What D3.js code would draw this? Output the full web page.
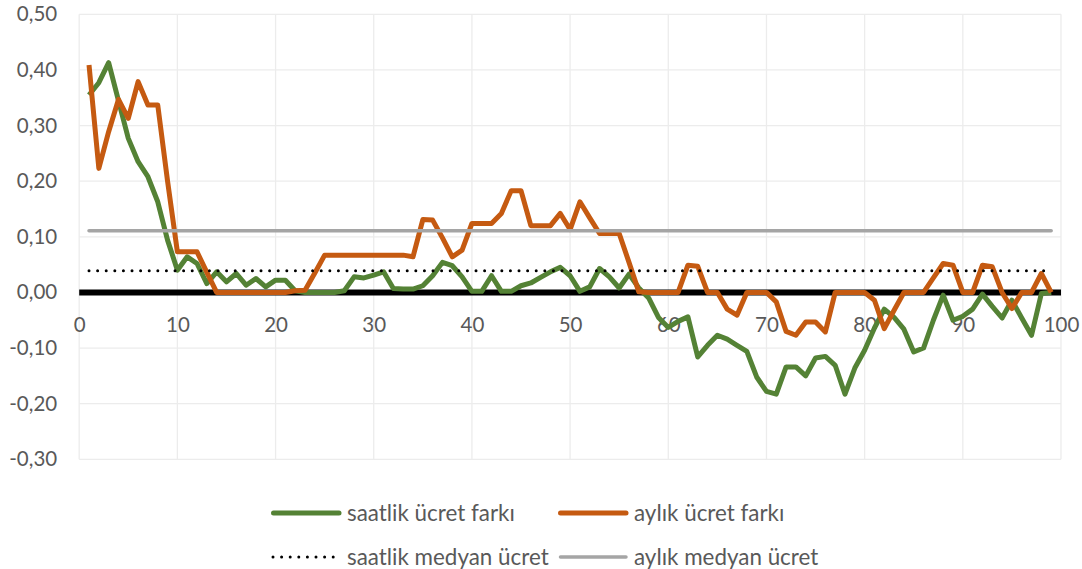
<!DOCTYPE html>
<html lang="tr">
  <head>
    <meta charset="UTF-8">
    <title>Ücret farkı</title>
    <script src="https://cdn.jsdelivr.net/npm/d3@7"></script>
    <style>
      body { margin: 0; background: #fff; }
      text { font-family: Lato, "Noto Sans", sans-serif; fill: #595959; }
      .grid line { stroke: #ececec; stroke-width: 1.3; }
      .series { fill: none; stroke-linejoin: round; }
    </style>
  </head>
  <body>
    <svg id="chart"></svg>

    <script>
      // saatlik ücret farkı (green), percentile 1..99
      var hourlyGap = [
        0.355, 0.377, 0.413, 0.345, 0.277, 0.235, 0.208, 0.163, 0.094, 0.040,
        0.064, 0.052, 0.016, 0.037, 0.019, 0.034, 0.013, 0.025, 0.010, 0.022,
        0.022, 0.003, 0.000, 0.000, 0.000, 0.000, 0.003, 0.028, 0.026, 0.031,
        0.037, 0.007, 0.006, 0.006, 0.012, 0.030, 0.054, 0.048, 0.028, 0.002,
        0.002, 0.030, 0.002, 0.002, 0.012, 0.017, 0.027, 0.037, 0.045, 0.030,
        0.002, 0.010, 0.043, 0.028, 0.008, 0.033, 0.008, -0.010, -0.045, -0.063,
        -0.052, -0.044, -0.116, -0.095, -0.077, -0.084, -0.095, -0.106, -0.152, -0.178,
        -0.183, -0.134, -0.134, -0.150, -0.118, -0.115, -0.131, -0.183, -0.136, -0.104,
        -0.064, -0.030, -0.045, -0.066, -0.107, -0.100, -0.050, -0.005, -0.050, -0.043,
        -0.030, -0.003, -0.025, -0.046, -0.014, -0.046, -0.077, -0.002, 0.000
      ];

      // aylık ücret farkı (orange)
      var monthlyGap = [
        0.409, 0.223, 0.289, 0.347, 0.313, 0.379, 0.337, 0.337, 0.200, 0.073,
        0.073, 0.073, 0.036, 0.000, 0.000, 0.000, 0.000, 0.000, 0.000, 0.000,
        0.000, 0.003, 0.004, 0.035, 0.067, 0.067, 0.067, 0.067, 0.067, 0.067,
        0.067, 0.067, 0.067, 0.064, 0.131, 0.130, 0.098, 0.064, 0.076, 0.124,
        0.124, 0.124, 0.142, 0.183, 0.183, 0.120, 0.120, 0.120, 0.142, 0.113,
        0.163, 0.134, 0.106, 0.106, 0.106, 0.054, 0.001, 0.000, 0.000, 0.000,
        0.000, 0.049, 0.047, 0.000, 0.000, -0.030, -0.041, 0.000, 0.000, 0.000,
        -0.017, -0.070, -0.077, -0.053, -0.053, -0.071, 0.000, 0.000, 0.000, 0.000,
        -0.014, -0.065, -0.032, 0.000, 0.000, 0.000, 0.026, 0.052, 0.049, 0.000,
        0.000, 0.049, 0.046, 0.000, -0.029, 0.000, 0.000, 0.034, 0.000
      ];

      var hourlyMedian = 0.039;
      var monthlyMedian = 0.111;

      var xTicks = [0, 10, 20, 30, 40, 50, 60, 70, 80, 90, 100];
      var yTicks = [-0.3, -0.2, -0.1, 0, 0.1, 0.2, 0.3, 0.4, 0.5];

      var legendItems = [
        { label: "saatlik ücret farkı", color: "#548235", width: 5, dash: null },
        { label: "aylık ücret farkı", color: "#c55a11", width: 5, dash: null },
        { label: "saatlik medyan ücret", color: "#000", width: 3, dash: "0 8.6" },
        { label: "aylık medyan ücret", color: "#a5a5a5", width: 3.5, dash: null }
      ];

      var width = 1082, height = 569;
      var svg = d3.select("#chart").attr("width", width).attr("height", height);

      var x = d3.scaleLinear().domain([0, 100]).range([79.2, 1061]);
      var y = d3.scaleLinear().domain([-0.3, 0.5]).range([459.3, 14.3]);

      var pct = hourlyGap.map(function(d, i) { return i + 1; });

      // gridlines
      var grid = svg.append("g").attr("class", "grid");
      grid.selectAll(".gy").data(yTicks).enter().append("line")
          .attr("x1", x(0)).attr("x2", x(100))
          .attr("y1", function(d) { return y(d); })
          .attr("y2", function(d) { return y(d); });
      grid.selectAll(".gx").data(xTicks).enter().append("line")
          .attr("y1", y(0.5)).attr("y2", y(-0.3))
          .attr("x1", function(d) { return x(d); })
          .attr("x2", function(d) { return x(d); });

      // axes
      var yAxis = svg.append("g")
          .attr("transform", "translate(" + x(0) + ",0)")
          .call(d3.axisLeft(y).tickValues(yTicks).tickSize(0).tickPadding(22)
            .tickFormat(function(d) { return d.toFixed(2).replace(".", ","); }));
      yAxis.select(".domain").remove();

      var xAxis = svg.append("g")
          .attr("transform", "translate(0," + y(0) + ")")
          .call(d3.axisBottom(x).tickValues(xTicks).tickSize(0).tickPadding(25)
            .tickFormat(function(d) { return d; }));
      xAxis.select(".domain").remove();

      svg.selectAll(".tick text")
          .attr("font-size", 20.5)
          .style("font-family", "Lato, 'Noto Sans', sans-serif")
          .attr("fill", "#595959");

      // thick zero line
      svg.append("line")
          .attr("x1", x(0)).attr("x2", x(100))
          .attr("y1", y(0)).attr("y2", y(0))
          .attr("stroke", "#000").attr("stroke-width", 6);

      var line = d3.line()
          .x(function(d) { return x(d[0]); })
          .y(function(d) { return y(d[1]); });

      function pairs(values) {
        return values.map(function(v, i) { return [pct[i], v]; });
      }

      svg.append("path").attr("class", "series")
          .attr("d", line(pairs(hourlyGap)))
          .attr("stroke", "#548235").attr("stroke-width", 5);

      svg.append("path").attr("class", "series")
          .attr("d", line(pairs(monthlyGap)))
          .attr("stroke", "#c55a11").attr("stroke-width", 5);

      svg.append("path").attr("class", "series")
          .attr("d", line(pct.map(function(p) { return [p, hourlyMedian]; })))
          .attr("stroke", "#000").attr("stroke-width", 3)
          .attr("stroke-linecap", "round")
          .attr("stroke-dasharray", "0 8.6");

      svg.append("path").attr("class", "series")
          .attr("d", line(pct.map(function(p) { return [p, monthlyMedian]; })))
          .attr("stroke", "#a5a5a5").attr("stroke-width", 3.5)
          .attr("stroke-linecap", "round");

      // legend
      var legendPos = [[272, 513], [559, 513], [272, 557], [559, 557]];
      var legend = svg.append("g");
      legendItems.forEach(function(item, i) {
        var p = legendPos[i];
        var g = legend.append("g").attr("transform", "translate(" + p[0] + "," + p[1] + ")");
        g.append("line")
            .attr("x1", item.dash ? 1 : 1.5).attr("x2", item.dash ? 64 : 67)
            .attr("stroke", item.color)
            .attr("stroke-width", item.width)
            .attr("stroke-linecap", "round")
            .attr("stroke-dasharray", item.dash);
        g.append("text")
            .attr("x", 75).attr("dy", "0.35em")
            .attr("font-size", 22.4)
            .text(item.label);
      });
    </script>
  </body>
</html>
